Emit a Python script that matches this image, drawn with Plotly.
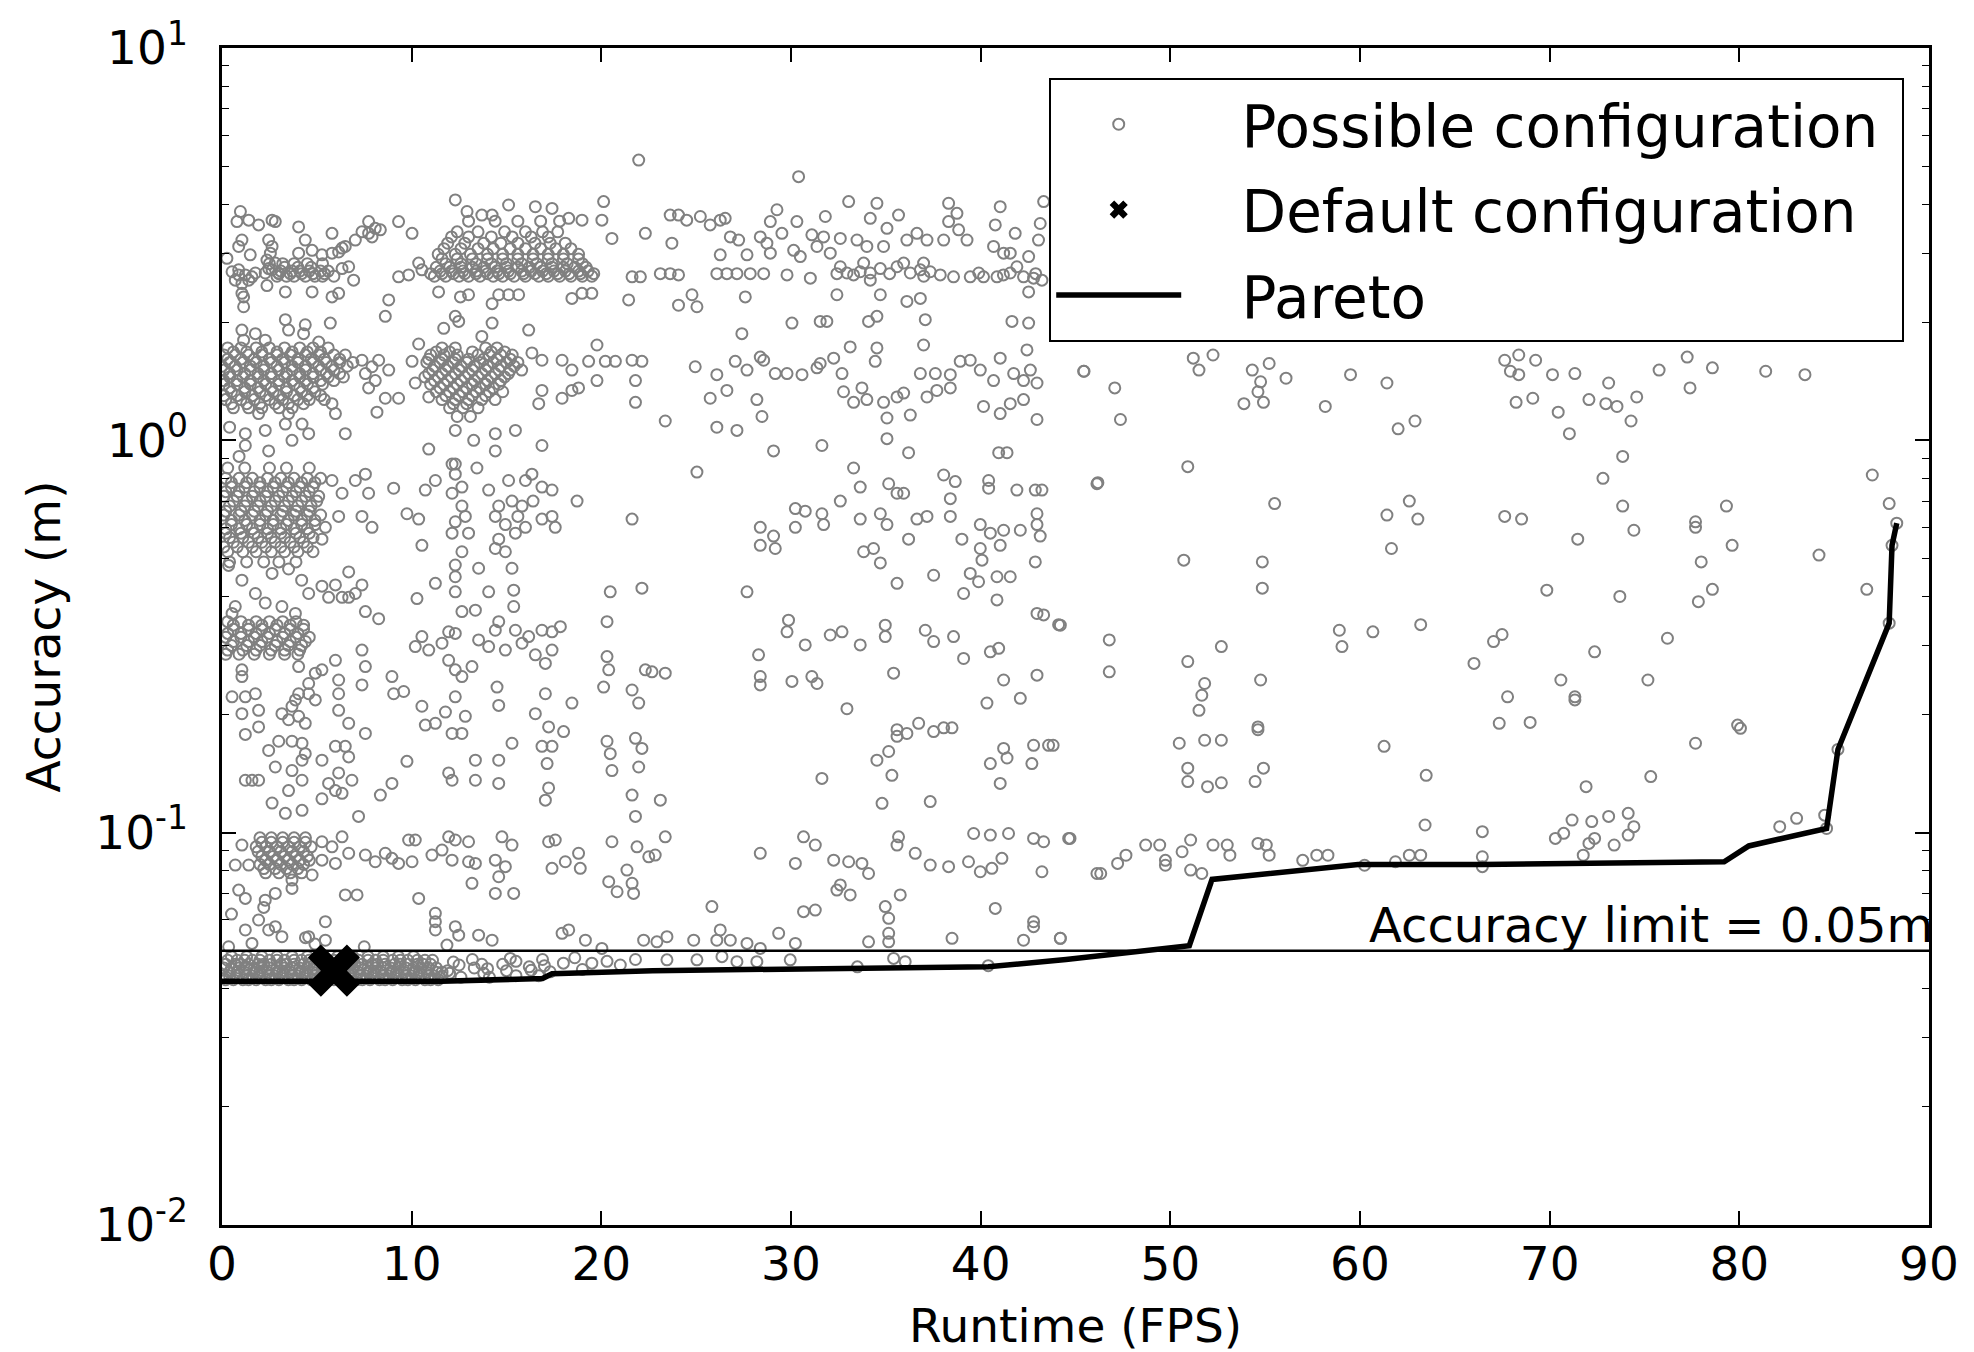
import math
import plotly.graph_objects as go

# ---------------- data (Runtime FPS, Accuracy m) ----------------
# Sparse configurations, grouped by region
upper_left = [
    (0.97, 3.83), (0.79, 3.61), (1.41, 3.64), (1.93, 3.54), (2.64, 3.64), (2.81, 3.61), (4.04, 3.50),
    (5.80, 3.37), (7.73, 3.61), (8.35, 3.44), (9.31, 3.61), (10.02, 3.37), (7.38, 3.40), (7.91, 3.30),
    (7.03, 3.24), (6.33, 3.09), (5.80, 3.00), (0.26, 2.91), (0.88, 3.12), (1.49, 2.97), (1.05, 3.24),
    (0.53, 2.69), (0.88, 2.72), (1.23, 2.64), (1.58, 2.61), (0.70, 2.56), (1.41, 2.56), (1.05, 2.51),
    (1.76, 2.67), (0.88, 2.64), (1.05, 2.37), (1.14, 2.19), (1.14, 2.32), (2.46, 3.24), (2.64, 3.12),
    (2.55, 3.00), (2.37, 2.88), (2.81, 2.83), (2.64, 2.72), (2.46, 2.74), (2.28, 2.67), (2.99, 2.67),
    (2.37, 2.48), (4.04, 3.00), (4.39, 3.24), (4.75, 3.05), (5.27, 2.97), (3.34, 2.39), (4.75, 2.39),
    (5.80, 2.32), (6.15, 2.37), (6.33, 2.74), (6.68, 2.77), (6.94, 2.56), (6.15, 3.02), (6.50, 3.12),
    (7.73, 3.37), (8.08, 3.47), (8.79, 2.28), (8.61, 2.07), (9.31, 2.61), (9.84, 2.64), (10.37, 2.83),
    (10.54, 2.72), (12.30, 4.10), (12.92, 3.83), (13.70, 3.75), (14.24, 3.75), (15.11, 3.98),
    (16.52, 3.94), (17.40, 3.90), (18.28, 3.68), (18.98, 3.64), (20.12, 4.06), (20.03, 3.64),
    (20.56, 3.27), (22.32, 3.37), (11.42, 2.39), (12.57, 2.32), (13.00, 2.35), (14.24, 2.23),
    (14.59, 2.35), (15.11, 2.35), (15.64, 2.35), (18.45, 2.30), (18.98, 2.37), (19.50, 2.37),
    (21.62, 2.61), (22.06, 2.61), (21.44, 2.28), (21.97, 5.18),
]

middle_left = [
    (1.05, 1.91), (1.14, 1.80), (3.34, 2.03), (3.51, 1.91), (4.39, 1.97), (4.30, 1.87), (5.71, 1.99),
    (5.10, 1.78), (2.28, 1.80), (1.76, 1.87), (1.23, 1.04), (2.28, 1.06), (3.34, 1.10), (3.69, 1.00),
    (2.46, 0.94), (4.57, 1.04), (4.22, 1.10), (1.23, 0.97), (5.98, 1.17), (6.50, 1.04), (5.80, 1.24),
    (3.51, 1.17), (1.93, 1.17), (0.40, 1.08), (0.90, 0.91), (7.38, 1.60), (7.91, 1.54), (8.26, 1.60),
    (8.79, 1.51), (7.56, 1.48), (8.08, 1.42), (7.73, 1.36), (8.61, 1.28), (9.31, 1.28), (8.17, 1.18),
    (10.37, 1.76), (10.02, 1.59), (10.19, 1.40), (10.90, 1.29), (12.30, 2.07), (12.48, 2.01),
    (11.69, 1.93), (14.24, 1.99), (13.70, 1.84), (16.34, 1.67), (16.87, 1.60), (17.93, 1.60),
    (18.45, 1.51), (19.33, 1.59), (20.21, 1.59), (20.74, 1.59), (19.77, 1.75), (19.77, 1.42),
    (21.62, 1.60), (22.14, 1.59), (21.80, 1.42), (21.80, 1.25), (16.17, 1.91), (18.45, 1.34),
    (18.80, 1.36), (17.93, 1.28), (16.87, 1.34), (16.70, 1.24), (15.80, 1.51), (15.47, 1.06),
    (16.87, 0.97), (14.41, 1.04), (14.41, 0.94), (10.90, 0.95), (12.30, 1.06), (13.27, 1.00),
    (12.30, 0.87), (13.44, 0.85),
]

lower_left = [
    (5.80, 0.79), (6.33, 0.733), (7.03, 0.79), (7.56, 0.82), (7.73, 0.733), (7.38, 0.64), (7.91, 0.60),
    (6.15, 0.64), (5.45, 0.60), (5.27, 0.56), (9.05, 0.755), (9.75, 0.65), (10.37, 0.63), (10.72, 0.747),
    (11.25, 0.79), (12.13, 0.87), (12.30, 0.82), (12.65, 0.76), (12.65, 0.68), (12.13, 0.58),
    (10.54, 0.54), (12.65, 0.52), (12.83, 0.64), (12.13, 0.733), (12.30, 0.62), (13.00, 0.58),
    (14.06, 0.747), (14.59, 0.68), (14.94, 0.61), (15.11, 0.79), (16.00, 0.79), (16.34, 0.82),
    (16.87, 0.76), (17.40, 0.747), (15.82, 0.68), (15.47, 0.58), (14.59, 0.56), (16.87, 0.63),
    (17.40, 0.64), (17.57, 0.60), (16.00, 0.60), (14.41, 0.53), (14.94, 0.52), (15.29, 0.70),
    (14.41, 0.64), (15.60, 0.64), (16.40, 0.70), (18.72, 0.70), (21.62, 0.63),
]

tenths_left = [
    (0.35, 0.48), (1.05, 0.44), (1.76, 0.407), (2.64, 0.458), (3.51, 0.47), (4.20, 0.44), (2.28, 0.385),
    (3.16, 0.377), (0.70, 0.377), (0.53, 0.362), (5.27, 0.425), (5.62, 0.398), (5.98, 0.428),
    (6.33, 0.398), (6.68, 0.462), (7.03, 0.407), (7.38, 0.428), (7.56, 0.366), (8.26, 0.351),
    (6.68, 0.398), (4.57, 0.407), (3.87, 0.362), (1.05, 0.26), (1.05, 0.25), (0.53, 0.222),
    (1.23, 0.222), (1.76, 0.226), (1.93, 0.205), (1.05, 0.201), (1.93, 0.186), (1.23, 0.178),
    (3.16, 0.201), (3.69, 0.21), (4.04, 0.198), (4.39, 0.19), (3.51, 0.194), (3.87, 0.218),
    (2.99, 0.171), (3.69, 0.171), (4.22, 0.169), (4.39, 0.159), (2.46, 0.162), (2.81, 0.147),
    (3.69, 0.144), (4.22, 0.153), (4.22, 0.136), (3.51, 0.128), (2.64, 0.119), (3.34, 0.112),
    (4.22, 0.114), (4.04, 0.226), (4.57, 0.226), (4.04, 0.265), (4.92, 0.255), (4.57, 0.24),
    (4.92, 0.218), (1.23, 0.136), (1.58, 0.136), (1.93, 0.136), (5.27, 0.153), (5.98, 0.166),
    (6.50, 0.166), (6.68, 0.156), (6.15, 0.142), (6.85, 0.136), (5.98, 0.128), (5.27, 0.122),
    (6.33, 0.126), (5.62, 0.1335), (7.20, 0.110), (6.15, 0.245), (7.38, 0.238), (6.15, 0.226),
    (7.38, 0.292), (7.56, 0.265), (6.68, 0.19), (7.56, 0.179), (6.15, 0.205), (5.98, 0.275),
    (5.27, 0.26), (10.28, 0.395), (11.25, 0.432), (12.30, 0.481), (12.30, 0.449), (12.30, 0.411),
    (13.53, 0.472), (14.06, 0.411), (15.29, 0.472), (15.38, 0.415), (15.38, 0.377), (12.65, 0.366),
    (13.36, 0.369), (14.59, 0.345), (15.47, 0.328), (14.41, 0.328), (16.17, 0.316), (16.87, 0.328),
    (17.40, 0.325), (17.84, 0.335), (10.54, 0.316), (10.19, 0.298), (10.90, 0.292), (11.60, 0.304),
    (11.95, 0.275), (12.30, 0.26), (12.65, 0.25), (13.18, 0.265), (11.95, 0.325), (12.30, 0.322),
    (13.53, 0.31), (14.06, 0.298), (14.94, 0.292), (15.82, 0.304), (16.52, 0.284), (17.05, 0.27),
    (17.40, 0.292), (8.96, 0.25), (9.05, 0.226), (9.58, 0.229), (10.54, 0.21), (10.72, 0.188),
    (11.25, 0.19), (11.78, 0.203), (12.13, 0.179), (12.65, 0.179), (12.30, 0.222), (12.83, 0.198),
    (14.50, 0.235), (14.59, 0.211), (16.52, 0.201), (17.05, 0.226), (17.22, 0.186), (18.01, 0.181),
    (18.45, 0.214), (16.87, 0.166), (17.40, 0.166), (17.14, 0.150), (15.29, 0.169), (14.59, 0.153),
    (13.36, 0.153), (13.36, 0.136), (14.59, 0.1335), (11.95, 0.142), (12.13, 0.136), (9.75, 0.152),
    (8.96, 0.1335), (8.35, 0.1247), (17.22, 0.13), (17.05, 0.121), (20.47, 0.411), (22.14, 0.42),
    (20.30, 0.345), (20.30, 0.281), (20.39, 0.26), (20.12, 0.235), (21.62, 0.231), (21.97, 0.214),
    (22.32, 0.26), (20.30, 0.171), (20.47, 0.159), (20.56, 0.144), (21.80, 0.174), (22.14, 0.164),
    (21.97, 0.147), (21.62, 0.1247), (21.80, 0.110),
]

hundredths_left = [
    (1.05, 0.093), (0.70, 0.0827), (1.41, 0.0827), (5.27, 0.0948), (5.80, 0.092), (6.33, 0.0976),
    (6.68, 0.0886), (5.27, 0.0851), (5.98, 0.0835), (4.75, 0.078), (7.56, 0.0877), (8.08, 0.0843),
    (8.61, 0.0886), (8.96, 0.086), (9.31, 0.0835), (9.84, 0.0958), (10.19, 0.0958), (10.02, 0.0843),
    (11.07, 0.0877), (11.95, 0.0976), (12.30, 0.0958), (13.00, 0.0948), (11.60, 0.0903),
    (12.13, 0.0851), (13.00, 0.0843), (13.36, 0.0835), (14.76, 0.0976), (15.29, 0.093),
    (14.41, 0.0851), (14.94, 0.0819), (14.59, 0.0772), (17.22, 0.0948), (17.57, 0.0958),
    (17.40, 0.0811), (18.10, 0.0843), (18.80, 0.0886), (18.89, 0.0811), (20.56, 0.0948),
    (21.88, 0.092), (22.50, 0.0868), (21.35, 0.0803), (21.62, 0.0743), (20.39, 0.075), (20.83, 0.0707),
    (21.70, 0.07), (0.88, 0.0714), (1.23, 0.068), (2.28, 0.0673), (2.81, 0.07), (3.69, 0.0721),
    (3.69, 0.0757), (1.93, 0.0599), (1.23, 0.0565), (2.81, 0.0576), (3.16, 0.0543), (4.57, 0.0543),
    (5.45, 0.0593), (5.45, 0.0532), (6.50, 0.0694), (7.12, 0.0694), (10.37, 0.068), (11.25, 0.0623),
    (11.25, 0.0593), (11.25, 0.0565), (12.30, 0.0576), (12.48, 0.0548), (13.53, 0.0548),
    (14.24, 0.0532), (11.86, 0.0517), (14.41, 0.07), (15.38, 0.07), (13.18, 0.0743), (17.93, 0.0554),
    (18.28, 0.0565), (19.16, 0.0532), (20.03, 0.0507), (22.23, 0.0532), (0.35, 0.0512), (1.58, 0.0522),
    (2.46, 0.0565), (4.40, 0.054), (4.90, 0.052), (7.50, 0.0512), (0.50, 0.062), (2.20, 0.0645),
]

floor_right_of_11 = [
    (12.5, 0.046), (13.2, 0.0475), (14.0, 0.045), (15.5, 0.047), (16.2, 0.0455), (16.9, 0.0475),
    (18.0, 0.0465), (18.6, 0.048), (19.5, 0.0465), (20.3, 0.047), (21.0, 0.046), (21.8, 0.0475),
    (12.0, 0.0438), (13.8, 0.0438), (15.0, 0.0445), (17.3, 0.0442), (19.0, 0.0448),
    (11.9, 0.0445), (12.6, 0.0428), (13.3, 0.0452), (14.1, 0.0428), (14.8, 0.0462), (15.5, 0.0432),
    (16.3, 0.0446), (17.0, 0.0458), (12.2, 0.0468), (13.7, 0.0462), (15.2, 0.0478), (16.7, 0.0432),
]

centre_upper = [
    (30.40, 4.70), (23.63, 3.75), (24.07, 3.75), (24.50, 3.64), (25.22, 3.72), (25.74, 3.54),
    (26.27, 3.64), (26.53, 3.68), (26.80, 3.30), (27.24, 3.24), (28.38, 3.30), (28.73, 3.18),
    (29.26, 3.87), (28.91, 3.61), (29.52, 3.37), (30.31, 3.61), (31.10, 3.34), (31.72, 3.30),
    (31.81, 3.72), (32.60, 3.27), (33.04, 4.06), (33.48, 3.24), (34.18, 3.68), (34.53, 4.02),
    (34.00, 3.12), (34.88, 3.12), (35.67, 3.75), (35.06, 3.47), (36.11, 3.24), (36.64, 3.37),
    (37.17, 3.24), (38.05, 3.24), (38.31, 4.02), (38.75, 3.79), (38.31, 3.61), (38.84, 3.44),
    (39.28, 3.24), (41.03, 3.94), (40.77, 3.54), (41.82, 3.37), (40.68, 3.12), (41.21, 3.00),
    (42.53, 2.94), (43.14, 3.57), (43.32, 4.06), (43.05, 3.24), (41.56, 3.00),
    (23.11, 2.66), (23.63, 2.66), (24.07, 2.64), (26.09, 2.66), (26.62, 2.66), (27.15, 2.66),
    (27.85, 2.66), (28.56, 2.66), (29.79, 2.64), (31.02, 2.59), (32.42, 2.66), (32.95, 2.67),
    (33.65, 2.69), (34.18, 2.67), (34.71, 2.74), (35.59, 2.77), (36.29, 2.67), (36.82, 2.72),
    (37.34, 2.69), (37.87, 2.64), (38.57, 2.61), (39.45, 2.61), (40.15, 2.61), (40.86, 2.61),
    (41.56, 2.67), (42.26, 2.61), (42.79, 2.59), (43.23, 2.56), (42.53, 2.39), (34.18, 2.56),
    (31.37, 3.12), (30.14, 3.05), (32.07, 3.00), (30.49, 2.94), (26.27, 2.97), (27.68, 2.97),
    (28.91, 3.00), (23.72, 3.18), (32.60, 2.77), (33.83, 2.83), (35.94, 2.83), (36.99, 2.83),
    (41.91, 2.77), (24.78, 2.35), (24.07, 2.21), (25.04, 2.19), (27.59, 2.32), (32.42, 2.35),
    (34.71, 2.35), (36.11, 2.26), (36.82, 2.30), (30.05, 1.99), (31.54, 2.01), (31.89, 2.01),
    (34.09, 2.01), (34.53, 2.07), (37.08, 2.03), (41.65, 2.01), (42.53, 1.99), (27.41, 1.87),
    (33.3, 2.64), (35.2, 2.66), (37.0, 2.62), (39.9, 2.67), (41.2, 2.64), (42.9, 2.66),
]

centre_middle = [
    (24.95, 1.54), (26.09, 1.47), (25.74, 1.28), (26.62, 1.34), (27.06, 1.59), (27.68, 1.51),
    (28.38, 1.63), (28.56, 1.60), (29.17, 1.48), (29.79, 1.48), (30.58, 1.47), (31.37, 1.53),
    (31.54, 1.57), (32.25, 1.62), (32.69, 1.48), (33.12, 1.73), (34.53, 1.72), (34.44, 1.59),
    (32.77, 1.33), (33.30, 1.25), (33.74, 1.36), (34.00, 1.27), (34.88, 1.25), (35.59, 1.29),
    (35.94, 1.32), (36.82, 1.48), (37.61, 1.48), (38.40, 1.47), (38.92, 1.59), (39.45, 1.60),
    (39.98, 1.51), (40.68, 1.42), (41.03, 1.62), (41.74, 1.48), (42.44, 1.70), (42.62, 1.51),
    (42.26, 1.42), (42.97, 1.40), (42.26, 1.27), (37.17, 1.29), (37.69, 1.34), (38.40, 1.36),
    (40.15, 1.22), (41.03, 1.17), (41.56, 1.24), (42.97, 1.13), (36.99, 1.75), (36.29, 1.16),
    (35.06, 1.14), (28.20, 1.27), (28.47, 1.15), (23.37, 1.12), (26.09, 1.08), (27.15, 1.06),
    (29.08, 0.94), (31.63, 0.97), (36.20, 0.93), (35.06, 1.01), (40.95, 0.93), (41.39, 0.93),
    (25.04, 0.83), (45.43, 1.50),
]

centre_lower = [
    (33.30, 0.85), (33.65, 0.76), (35.15, 0.775), (35.59, 0.733), (35.94, 0.733), (38.05, 0.816),
    (38.66, 0.785), (40.42, 0.79), (40.42, 0.755), (41.91, 0.747), (42.88, 0.747), (43.23, 0.747),
    (38.40, 0.71), (32.60, 0.70), (30.23, 0.67), (30.75, 0.66), (31.63, 0.65), (31.72, 0.61),
    (30.23, 0.60), (28.38, 0.60), (29.08, 0.57), (28.38, 0.54), (29.17, 0.53), (33.65, 0.63),
    (34.71, 0.65), (35.06, 0.61), (36.20, 0.56), (36.64, 0.63), (37.17, 0.64), (38.40, 0.64),
    (39.98, 0.61), (40.51, 0.58), (41.21, 0.59), (42.09, 0.59), (42.97, 0.65), (42.97, 0.61),
    (43.14, 0.57), (39.01, 0.56), (39.98, 0.53), (41.03, 0.54), (33.83, 0.52), (34.35, 0.53),
    (46.13, 0.775),
]

centre_tenths = [
    (27.68, 0.411), (35.59, 0.432), (37.52, 0.453), (39.45, 0.458), (39.89, 0.436), (40.86, 0.449),
    (41.56, 0.449), (39.10, 0.407), (40.86, 0.392), (42.97, 0.362), (43.32, 0.359), (44.20, 0.338),
    (42.88, 0.49), (34.71, 0.487), (40.07, 0.495), (29.87, 0.348), (29.79, 0.325), (30.75, 0.301),
    (32.07, 0.319), (32.69, 0.325), (33.65, 0.301), (34.97, 0.338), (34.97, 0.316), (37.08, 0.328),
    (37.52, 0.307), (38.57, 0.316), (39.10, 0.278), (40.51, 0.289), (40.95, 0.295), (42.97, 0.252),
    (41.21, 0.245), (42.09, 0.22), (40.33, 0.214), (28.29, 0.284), (28.38, 0.25), (28.38, 0.238),
    (30.05, 0.243), (31.10, 0.25), (31.37, 0.24), (23.37, 0.255), (22.67, 0.257), (35.41, 0.255),
    (32.95, 0.207), (35.59, 0.183), (35.59, 0.176), (36.11, 0.179), (36.73, 0.19), (37.52, 0.181),
    (38.05, 0.185), (38.49, 0.185), (35.15, 0.161), (34.53, 0.153), (35.32, 0.140), (31.63, 0.1375),
    (41.21, 0.164), (41.39, 0.155), (40.51, 0.150), (42.79, 0.167), (43.58, 0.167), (42.70, 0.150),
    (41.03, 0.1335), (23.11, 0.121), (34.80, 0.1188), (37.34, 0.120),
]

centre_hundredths = [
    (23.37, 0.0976), (22.84, 0.0877), (30.66, 0.0976), (31.28, 0.093), (28.38, 0.0886),
    (30.23, 0.0835), (32.25, 0.0851), (33.04, 0.0843), (33.74, 0.0835), (34.09, 0.0787),
    (35.67, 0.0976), (35.59, 0.093), (36.55, 0.0886), (37.34, 0.0827), (38.31, 0.0819),
    (39.36, 0.0843), (39.98, 0.0795), (40.59, 0.0811), (41.12, 0.086), (39.63, 0.0995),
    (40.51, 0.0986), (41.47, 0.0995), (42.79, 0.0967), (43.32, 0.0948), (44.64, 0.0967),
    (43.23, 0.0795), (46.13, 0.0787), (25.83, 0.0648), (32.60, 0.0736), (32.42, 0.0714),
    (33.12, 0.0694), (30.66, 0.0629), (31.28, 0.0635), (34.97, 0.0648), (35.15, 0.0605),
    (35.76, 0.0694), (40.77, 0.0641), (42.79, 0.0593), (42.79, 0.0576), (42.26, 0.0532),
    (44.20, 0.0538), (38.49, 0.0538), (34.09, 0.0527), (35.15, 0.0554), (35.15, 0.0527),
    (29.35, 0.0554), (30.23, 0.0522), (26.27, 0.0565), (26.80, 0.0532), (26.09, 0.0532),
    (24.87, 0.0532), (23.46, 0.0543), (22.93, 0.0527), (27.68, 0.0522), (28.38, 0.0507),
    (23.46, 0.0474), (25.04, 0.0474), (26.36, 0.0483), (27.15, 0.0469), (28.20, 0.0469),
    (29.96, 0.0474), (35.41, 0.0478), (36.02, 0.0469), (33.50, 0.0455), (40.40, 0.0458),
]

right_side = [
    (45.45, 1.50), (47.07, 1.36), (47.37, 1.13), (51.21, 1.62), (51.51, 1.51), (52.25, 1.65),
    (54.32, 1.51), (55.21, 1.57), (54.76, 1.41), (54.62, 1.33), (53.88, 1.24), (54.91, 1.25),
    (56.10, 1.44), (58.17, 1.22), (59.50, 1.47), (61.42, 1.40), (62.01, 1.07), (62.90, 1.12),
    (67.63, 1.60), (68.37, 1.65), (69.26, 1.60), (67.93, 1.50), (68.37, 1.47), (70.15, 1.47),
    (71.33, 1.48), (68.23, 1.25), (69.11, 1.28), (70.45, 1.18), (72.07, 1.27), (72.96, 1.24),
    (73.55, 1.22), (73.11, 1.40), (74.59, 1.29), (74.29, 1.12), (71.04, 1.04), (75.77, 1.51),
    (77.25, 1.63), (78.58, 1.53), (77.40, 1.36), (81.39, 1.50), (83.46, 1.47),
    (50.92, 0.857), (46.18, 0.78), (55.50, 0.69), (62.60, 0.70), (61.42, 0.645), (63.05, 0.63),
    (67.63, 0.64), (68.52, 0.63), (73.85, 0.91), (72.81, 0.80), (73.85, 0.68), (74.44, 0.59),
    (71.48, 0.56), (77.69, 0.62), (77.69, 0.60), (79.32, 0.68), (79.62, 0.54), (87.01, 0.816),
    (87.90, 0.69), (84.20, 0.51), (61.66, 0.53), (50.71, 0.495), (54.85, 0.49), (77.99, 0.49),
    (54.85, 0.42), (69.85, 0.415), (73.70, 0.40), (78.58, 0.417), (77.84, 0.388), (86.72, 0.417),
    (44.11, 0.339), (46.78, 0.31), (50.92, 0.273), (46.78, 0.257), (52.69, 0.298), (51.81, 0.24),
    (51.66, 0.224), (51.51, 0.205), (54.76, 0.245), (58.91, 0.328), (59.05, 0.298), (60.68, 0.325),
    (63.20, 0.339), (66.01, 0.27), (67.04, 0.307), (67.49, 0.32), (72.37, 0.289), (70.59, 0.245),
    (71.33, 0.222), (67.78, 0.222), (75.18, 0.245), (76.21, 0.313), (79.91, 0.188), (54.62, 0.186),
    (67.34, 0.19), (68.97, 0.191), (71.33, 0.218), (80.06, 0.1845), (77.69, 0.169), (54.62, 0.183),
    (50.47, 0.169), (51.81, 0.172), (52.69, 0.172), (43.82, 0.167), (50.92, 0.146), (50.92, 0.135),
    (51.96, 0.131), (52.69, 0.134), (54.47, 0.135), (54.91, 0.146), (61.27, 0.166), (63.49, 0.140),
    (71.92, 0.131), (75.33, 0.139), (44.71, 0.0967), (46.33, 0.0787), (47.22, 0.0835),
    (47.66, 0.0876), (48.70, 0.093), (49.44, 0.093), (49.74, 0.085), (49.74, 0.0826), (50.62, 0.0894),
    (51.07, 0.0958), (51.07, 0.0803), (51.66, 0.0787), (52.25, 0.093), (53.00, 0.093),
    (53.14, 0.0876), (54.62, 0.0939), (55.06, 0.093), (55.21, 0.0876), (56.98, 0.085),
    (57.72, 0.0876), (58.31, 0.0876), (60.24, 0.0826), (61.87, 0.0843), (62.60, 0.0876),
    (63.20, 0.0876), (63.43, 0.1046), (66.45, 0.1006), (66.45, 0.0868), (66.45, 0.0819),
    (70.30, 0.0967), (70.74, 0.0996), (71.18, 0.1077), (72.22, 0.1067), (73.11, 0.110),
    (74.14, 0.112), (74.44, 0.1036), (74.14, 0.0986), (72.37, 0.0967), (72.07, 0.0939),
    (73.40, 0.093), (71.77, 0.0876), (82.13, 0.1036), (83.02, 0.1088), (84.50, 0.1108),
    (44.20, 0.0538), (88.05, 0.54), (88.30, 0.615), (87.90, 0.342), (85.20, 0.163), (84.60, 0.1025),
]

# Dense clusters, written as (accuracy, [runtimes...]) rows
dense_upper_rows = [
    (2.62, [2.9, 3.4, 3.8, 4.4, 4.9, 5.3, 5.9, 11.2, 11.8, 12.5, 13.0, 13.6, 14.3, 14.8, 15.4, 16.0, 16.7, 17.2, 17.8, 18.4, 19.0, 19.5]),
    (2.66, [3.0, 3.6, 4.2, 4.8, 5.4, 11.0, 11.6, 12.2, 12.8, 13.4, 14.0, 14.6, 15.2, 15.9, 16.5, 17.1, 17.7, 18.3, 18.9, 19.6]),
    (2.70, [3.1, 3.7, 4.1, 4.6, 5.2, 5.6, 11.5, 12.1, 12.7, 13.4, 13.9, 14.5, 15.1, 15.8, 16.3, 16.9, 17.5, 18.1, 18.8, 19.3]),
    (2.76, [3.3, 4.0, 4.7, 11.3, 12.0, 12.6, 13.2, 13.8, 14.4, 15.0, 15.6, 16.2, 16.8, 17.4, 18.0, 18.6, 19.2]),
    (2.82, [2.5, 3.2, 3.8, 4.5, 5.3, 11.8, 12.6, 13.4, 14.2, 15.0, 15.8, 16.6, 17.4, 18.2, 19.0]),
    (2.90, [11.6, 12.4, 13.2, 14.0, 14.8, 15.6, 16.4, 17.2, 18.0, 18.8]),
    (2.98, [11.4, 12.3, 13.1, 14.0, 14.8, 15.6, 16.4, 17.2, 18.0, 18.8]),
    (3.08, [11.7, 12.6, 13.5, 14.3, 15.2, 16.0, 16.8, 17.6, 18.4]),
    (3.18, [11.9, 12.8, 13.8, 14.7, 15.6, 16.5, 17.3, 18.1]),
    (3.30, [12.1, 13.0, 14.2, 15.3, 16.3, 17.2]),
    (3.40, [12.4, 13.5, 14.9, 16.0, 16.9, 17.7]),
    (3.62, [13.0, 14.4, 15.6, 16.8, 17.8]),
]

dense_middle_rows = [
    (1.72, [0.3, 1.0, 1.8, 2.5, 3.3, 4.1, 4.8, 5.6, 11.6, 12.3, 13.9, 14.5]),
    (1.68, [0.6, 1.3, 2.1, 2.9, 3.7, 4.5, 5.2, 11.3, 12.0, 13.2, 14.2, 14.9]),
    (1.65, [0.1, 0.7, 1.4, 2.1, 2.9, 3.6, 4.4, 5.1, 5.9, 6.5, 11.0, 11.7, 12.4, 13.5, 14.1, 14.7, 15.3]),
    (1.61, [0.3, 1.0, 1.7, 2.5, 3.2, 4.0, 4.7, 5.4, 6.2, 10.9, 11.6, 12.3, 13.0, 13.8, 14.5, 15.2]),
    (1.58, [0.4, 1.1, 1.8, 2.6, 3.3, 4.0, 4.8, 5.5, 6.2, 6.9, 10.8, 11.5, 12.2, 12.9, 13.6, 14.3, 15.0, 15.6]),
    (1.545, [0.0, 0.7, 1.5, 2.2, 2.9, 3.7, 4.4, 5.1, 5.8, 6.6, 11.2, 11.9, 12.6, 13.3, 14.0, 14.7, 15.4]),
    (1.51, [0.1, 0.8, 1.5, 2.2, 3.0, 3.7, 4.4, 5.2, 5.9, 11.1, 11.8, 12.5, 13.2, 13.9, 14.6, 15.2]),
    (1.48, [0.4, 1.2, 1.9, 2.6, 3.4, 4.1, 4.8, 5.5, 6.2, 10.9, 11.6, 12.3, 13.0, 13.7, 14.4, 15.1]),
    (1.45, [0.4, 1.1, 1.9, 2.6, 3.3, 4.1, 4.8, 5.6, 6.4, 10.7, 11.4, 12.1, 12.8, 13.5, 14.2, 14.9]),
    (1.42, [0.1, 0.8, 1.5, 2.2, 3.0, 3.7, 4.4, 5.2, 5.9, 11.2, 11.9, 12.6, 13.3, 14.0, 14.7]),
    (1.39, [0.1, 0.8, 1.5, 2.3, 3.0, 3.8, 4.5, 5.3, 11.0, 11.7, 12.4, 13.2, 13.9, 14.6]),
    (1.36, [0.4, 1.2, 1.9, 2.6, 3.4, 4.1, 4.8, 11.5, 12.2, 12.9, 13.6, 14.3]),
    (1.33, [0.5, 1.2, 2.0, 2.7, 3.4, 4.2, 4.9, 11.3, 12.0, 12.7, 13.4, 14.1, 14.8]),
    (1.30, [0.1, 0.8, 1.6, 2.3, 3.0, 3.8, 4.5, 5.2, 11.8, 12.5, 13.2, 13.9]),
    (1.27, [0.2, 1.0, 1.7, 2.5, 3.2, 4.0, 4.6, 5.4, 11.6, 12.3, 13.0, 13.7, 14.4]),
    (1.24, [0.5, 1.3, 2.0, 2.8, 3.5, 4.3, 12.2, 12.9]),
    (1.21, [0.6, 1.4, 2.1, 3.0, 3.7, 12.0, 12.7, 13.5]),
    (1.15, [12.4, 13.1]),
]

dense_lower_rows = [
    (0.85, [0.3, 1.2, 2.5, 3.4, 4.6]),
    (0.80, [0.2, 0.9, 1.6, 2.4, 3.1, 3.8, 4.5, 5.2]),
    (0.78, [0.5, 1.3, 2.0, 2.8, 3.5, 4.2, 4.9]),
    (0.76, [0.5, 1.2, 2.0, 2.7, 3.4, 4.1, 4.8]),
    (0.74, [0.2, 0.9, 1.7, 2.4, 3.2, 3.9, 4.6]),
    (0.72, [0.1, 0.8, 1.6, 2.3, 3.0, 3.7, 4.4, 5.1]),
    (0.70, [0.6, 1.3, 2.0, 2.8, 3.5, 4.2, 5.0]),
    (0.68, [0.4, 1.2, 1.9, 2.6, 3.3, 4.0, 4.7]),
    (0.66, [0.2, 1.0, 1.7, 2.4, 3.2, 3.9, 4.6]),
    (0.645, [0.1, 0.9, 1.6, 2.3, 3.1, 3.8, 4.5, 5.2]),
    (0.625, [0.5, 1.2, 2.0, 2.7, 3.5, 4.2, 4.9]),
    (0.61, [0.5, 1.3, 2.0, 2.7, 3.4, 4.2, 4.9]),
    (0.595, [0.2, 0.9, 1.6, 2.4, 3.1, 3.8, 4.5]),
    (0.58, [0.2, 1.0, 1.7, 2.4, 3.1, 3.9, 4.6]),
    (0.565, [0.4, 1.1, 1.9, 2.6, 3.3, 4.1, 4.8]),
    (0.55, [0.6, 1.4, 2.1, 2.8, 3.6, 4.3]),
    (0.535, [0.1, 0.8, 1.6, 2.3, 3.1, 3.8, 4.5]),
    (0.52, [0.3, 1.1, 1.8, 2.6, 3.3, 4.0, 4.8]),
    (0.49, [0.4, 1.3, 2.2, 3.0, 3.9]),
]

dense_third_rows = [
    (0.345, [0.3, 1.0, 1.8, 2.5, 3.2, 3.9]),
    (0.338, [0.6, 1.4, 2.1, 2.9, 3.6, 4.3]),
    (0.33, [0.6, 1.4, 2.1, 2.8, 3.6, 4.3]),
    (0.322, [0.3, 1.0, 1.8, 2.5, 3.3, 4.0]),
    (0.315, [0.2, 1.0, 1.7, 2.4, 3.2, 3.9, 4.6]),
    (0.307, [0.6, 1.4, 2.1, 2.9, 3.6, 4.4]),
    (0.30, [0.5, 1.3, 2.0, 2.8, 3.5, 4.2]),
    (0.292, [0.3, 1.1, 1.8, 2.6, 3.3, 4.1]),
    (0.285, [0.2, 0.9, 1.7, 2.5, 3.3, 4.0]),
]

dense_tenth_rows = [
    (0.097, [2.0, 2.6, 3.2, 3.8, 4.4]),
    (0.0945, [2.1, 2.6, 3.2, 3.8, 4.4]),
    (0.092, [1.8, 2.3, 2.9, 3.5, 4.1, 4.7]),
    (0.0895, [1.9, 2.5, 3.1, 3.7, 4.3]),
    (0.087, [2.1, 2.7, 3.3, 3.9, 4.5]),
    (0.085, [2.3, 2.9, 3.5, 4.1, 4.6]),
    (0.083, [2.0, 2.5, 3.1, 3.7, 4.3]),
    (0.081, [2.2, 2.8, 3.4, 4.0]),
    (0.079, [2.3, 3.0, 3.6, 4.2]),
]

dense_floor_rows = [
    (0.0422, [0.2, 0.6, 1.1, 1.4, 1.8, 2.3, 2.6, 3.0, 3.5, 3.8, 4.2, 4.7, 5.0, 5.4, 5.9, 6.2, 6.6, 7.1, 7.4, 7.8, 8.3, 8.6, 9.0, 9.5, 9.8, 10.2, 10.7, 11.0, 11.4]),
    (0.0431, [0.0, 0.4, 0.8, 1.3, 1.6, 2.0, 2.5, 2.8, 3.2, 3.7, 4.0, 4.4, 4.9, 5.2, 5.6, 6.1, 6.4, 6.8, 7.3, 7.6, 8.0, 8.5, 8.8, 9.2, 9.7, 10.0, 10.4, 10.9, 11.2, 11.6]),
    (0.0441, [0.4, 0.8, 1.2, 1.7, 2.0, 2.4, 2.9, 3.2, 3.6, 4.1, 4.4, 4.8, 5.3, 5.6, 6.0, 6.5, 6.8, 7.2, 7.7, 8.0, 8.4, 8.9, 9.2, 9.6, 10.1, 10.4, 10.8, 11.3, 11.6]),
    (0.0452, [0.1, 0.5, 0.9, 1.3, 1.7, 2.1, 2.5, 2.9, 3.3, 3.7, 4.1, 4.5, 4.9, 5.3, 5.7, 6.1, 6.5, 6.9, 7.3, 7.7, 8.1, 8.5, 8.9, 9.3, 9.7, 10.1, 10.5, 10.9, 11.3]),
    (0.0462, [0.2, 0.7, 1.0, 1.4, 1.9, 2.2, 2.6, 3.1, 3.4, 3.8, 4.3, 4.6, 5.0, 5.5, 5.8, 6.2, 6.7, 7.0, 7.4, 7.9, 8.2, 8.6, 9.1, 9.4, 9.8, 10.3, 10.6, 11.0]),
    (0.0473, [0.3, 0.8, 1.2, 1.6, 2.0, 2.5, 2.9, 3.3, 3.8, 4.2, 4.6, 5.1, 5.5, 5.9, 6.4, 6.8, 7.2, 7.7, 8.1, 8.5, 9.0, 9.4, 9.8, 10.3, 10.7, 11.1]),
    (0.0483, [0.5, 1.3, 2.1, 2.9, 3.7, 4.5, 5.3, 6.1, 6.9, 7.7, 8.5, 9.3, 10.1]),
]

# Pareto front and the default configuration
pareto_fps = [0.0, 11.6, 16.9, 17.4, 22.7, 33.5, 40.4, 44.5, 51.0, 52.2, 59.9, 66.4, 79.2, 80.5, 84.6, 85.2, 87.9, 88.05, 88.3]
pareto_acc = [0.0418, 0.0418, 0.0425, 0.0437, 0.0445, 0.0450, 0.0455, 0.0475, 0.0515, 0.0760, 0.0830, 0.0830, 0.0843, 0.0925, 0.1025, 0.163, 0.342, 0.54, 0.615]
default_fps = [5.9]
default_acc = [0.0445]
accuracy_limit = 0.05

x_ticks = [0, 10, 20, 30, 40, 50, 60, 70, 80, 90]
y_tickvals = [0.01, 0.1, 1, 10]
y_ticktext = ["10<sup>-2</sup>", "10<sup>-1</sup>", "10<sup>0</sup>", "10<sup>1</sup>"]

# ---------------- assemble ----------------
cfg_x, cfg_y = [], []
for group in [upper_left, middle_left, lower_left, tenths_left, hundredths_left, floor_right_of_11,
              centre_upper, centre_middle, centre_lower, centre_tenths, centre_hundredths, right_side]:
    for fx, fy in group:
        cfg_x.append(fx)
        cfg_y.append(fy)
for rows in [dense_upper_rows, dense_middle_rows, dense_lower_rows, dense_third_rows,
             dense_tenth_rows, dense_floor_rows]:
    for fy, xs in rows:
        for fx in xs:
            cfg_x.append(fx)
            cfg_y.append(fy)

minor_vals = []
for dec in [0.01, 0.1, 1]:
    for m in [2, 3, 4, 5, 6, 7, 8, 9]:
        minor_vals.append(round(dec * m, 6))

FONT = "DejaVu Sans"
GRAY = "rgb(128,128,128)"
PAD = "\u00a0\u00a0\u00a0"

fig = go.Figure()
fig.add_trace(go.Scatter(
    x=cfg_x, y=cfg_y, mode="markers", name=PAD + "Possible configuration\u00a0",
    marker=dict(symbol="circle-open", size=11, color=GRAY, line=dict(width=2, color=GRAY)),
    legendgroup="a", legendrank=1,
))
fig.add_trace(go.Scatter(
    x=[0, 90], y=[accuracy_limit, accuracy_limit], mode="lines",
    line=dict(color="black", width=2.5), showlegend=False, hoverinfo="skip",
))
fig.add_trace(go.Scatter(
    x=default_fps, y=default_acc, mode="markers", name=PAD + "Default configuration",
    marker=dict(symbol="x", size=46, color="black", line=dict(width=0)),
    legendgroup="b", legendrank=2,
))
fig.add_trace(go.Scatter(
    x=pareto_fps, y=pareto_acc, mode="lines", name=PAD + "Pareto",
    line=dict(color="black", width=5.5), legendgroup="c", legendrank=3,
))

fig.add_annotation(
    x=90, y=math.log10(accuracy_limit), xref="x", yref="y",
    text="Accuracy limit = 0.05m", showarrow=False,
    xanchor="right", yanchor="bottom", xshift=6, yshift=-4,
    font=dict(family=FONT, size=48, color="black"),
)
# x-axis title placed just under the tick labels
fig.add_annotation(
    x=0.5, y=-0.0855, xref="paper", yref="paper",
    text="Runtime (FPS)", showarrow=False,
    xanchor="center", yanchor="middle",
    font=dict(family=FONT, size=47, color="black"),
)

# the page body adds an 8 px offset, so margins are reduced by 8 on the top/left
fig.update_layout(
    template="none",
    width=1974, height=1352,
    margin=dict(l=214, r=53, t=40, b=135, autoexpand=False),
    paper_bgcolor="white", plot_bgcolor="white",
    font=dict(family=FONT, size=47, color="black"),
    showlegend=True,
    legend=dict(
        x=0.4846, y=0.9745, xanchor="left", yanchor="top",
        bgcolor="white", bordercolor="black", borderwidth=2,
        font=dict(family=FONT, size=58, color="black"),
        itemwidth=125, tracegroupgap=7, traceorder="grouped",
    ),
    xaxis=dict(
        range=[0, 90], tickvals=x_ticks, ticktext=[str(v) for v in x_ticks],
        ticks="inside", ticklen=14, tickwidth=1.5, tickcolor="black",
        showline=True, linewidth=2.5, linecolor="black", mirror="ticks",
        showgrid=False, zeroline=False, automargin=False,
        tickfont=dict(family=FONT, size=47),
        ticklabelstandoff=-4,
    ),
    yaxis=dict(
        type="log", range=[-2, 1], tickvals=y_tickvals, ticktext=y_ticktext,
        ticks="inside", ticklen=14, tickwidth=1.5, tickcolor="black",
        minor=dict(tickvals=minor_vals, ticks="inside", ticklen=7, tickwidth=1.2,
                   tickcolor="black", showgrid=False),
        showline=True, linewidth=2.5, linecolor="black", mirror="ticks",
        showgrid=False, zeroline=False, automargin=False,
        tickfont=dict(family=FONT, size=47),
        ticklabelstandoff=22,
        title=dict(text="Accuracy (m)", font=dict(family=FONT, size=47), standoff=20),
    ),
)

fig.write_html("out.html")
